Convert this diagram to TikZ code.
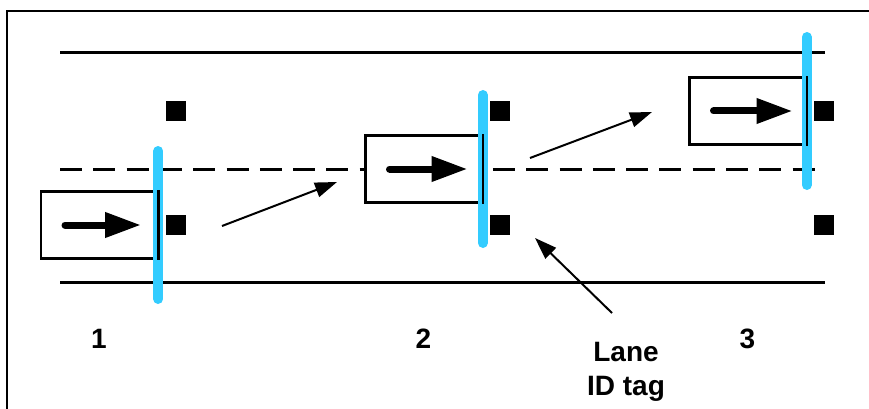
\documentclass[tikz,border=0pt]{standalone}
\usepackage{fontspec}
\setmainfont{Liberation Sans}
\usetikzlibrary{arrows.meta}
\definecolor{tagblue}{RGB}{51,204,255}
\begin{document}
\begin{tikzpicture}[x=1pt,y=-1pt,
  road/.style={line width=3pt},
  lanediv/.style={line width=3pt, dash pattern=on 22pt off 11.3pt},
  outline/.style={line width=2pt},
  carbox/.style={draw, line width=2.5pt, fill=white, minimum width=116pt, minimum height=67pt, inner sep=0pt},
  carheading/.style={line width=7pt, line cap=round, -{Triangle[length=36pt,width=24pt]}},
  reader/.style={draw=tagblue, line width=10pt, line cap=round},
  boxedge/.style={line width=2.5pt},
  idtag/.style={fill=black, minimum size=20pt, inner sep=0pt},
  motion/.style={line width=2pt, -{Triangle[length=22pt,width=15pt]}},
  lbl/.style={font=\bfseries\fontsize{28}{34}\selectfont, inner sep=0pt}
]
\useasboundingbox (0,0) rectangle (869,409);
% frame
\draw[outline] (7,409) -- (7,11) -- (869,11);
% road
\draw[road] (60,53) -- (825,53);
\draw[lanediv] (60,169) -- (825,169);
\draw[road] (60,282) -- (825,282);
% vehicles
\node[carbox] (b1) at (99,225) {};
\node[carbox] (b2) at (423.5,169) {};
\node[carbox] (b3) at (747.5,111) {};
% readers
\draw[reader] ([yshift=74pt]b1.east) -- ([yshift=-74pt]b1.east);
\draw[reader] ([yshift=74pt]b2.east) -- ([yshift=-74pt]b2.east);
\draw[reader] ([yshift=74pt]b3.east) -- ([yshift=-74pt]b3.east);
\draw[boxedge] (b1.north east) -- (b1.south east);
\draw[boxedge] (b2.north east) -- (b2.south east);
\draw[boxedge] (b3.north east) -- (b3.south east);
% headings
\draw[carheading] ([xshift=-34pt]b1.center) -- ([xshift=42pt]b1.center);
\draw[carheading] ([xshift=-34pt]b2.center) -- ([xshift=44pt]b2.center);
\draw[carheading] ([xshift=-34pt]b3.center) -- ([xshift=45pt]b3.center);
% tags
\node[idtag] (t1a) at (176,111) {};
\node[idtag] (t1b) at (175.5,225) {};
\node[idtag] (t2a) at (500,111) {};
\node[idtag] (t2b) at (500,225) {};
\node[idtag] (t3a) at (824,111) {};
\node[idtag] (t3b) at (824,225) {};
% motion arrows
\coordinate (m1a) at (222,226);
\coordinate (m1b) at (337,182);
\coordinate (m2a) at (530,158);
\coordinate (m2b) at (652,112);
\draw[motion] (m1a) -- (m1b);
\draw[motion] (m2a) -- (m2b);
% labels
\node[lbl, anchor=base] (n1) at (99,348) {1};
\node[lbl, anchor=base] (n2) at (423.5,348) {2};
\node[lbl, anchor=base] (n3) at (747.5,348) {3};
\node[lbl, align=center] (lane) at (626,372) {Lane\\ID tag};
\coordinate (lt) at (612,313);
\coordinate (lh) at (535,238);
\draw[motion] (lt) -- (lh);
\end{tikzpicture}
\end{document}
